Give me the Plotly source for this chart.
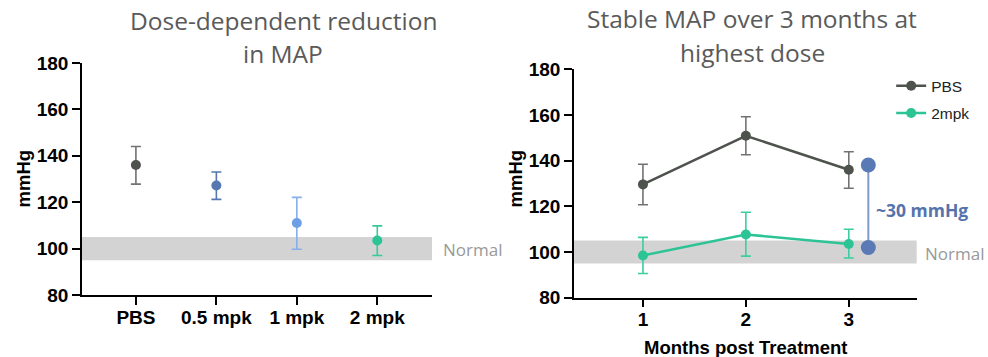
import plotly.graph_objects as go

# ---------------- data ----------------
dose_categories = ["PBS", "0.5 mpk", "1 mpk", "2 mpk"]
dose_map = [136.0, 127.2, 111.0, 103.5]
dose_err_plus = [8.0, 5.8, 11.1, 6.3]
dose_err_minus = [8.2, 6.0, 11.3, 6.5]

months = [1, 2, 3]
pbs_map = [129.6, 150.9, 136.0]
pbs_err_plus = [8.8, 8.3, 7.9]
pbs_err_minus = [8.9, 8.3, 8.1]
mpk2_map = [98.5, 107.7, 103.5]
mpk2_err_plus = [7.9, 9.7, 6.5]
mpk2_err_minus = [7.9, 9.5, 6.1]

gap_x = [3.19, 3.19]
gap_values = [138.1, 102.0]

normal_low, normal_high = 95, 105
y_ticks = [80, 100, 120, 140, 160, 180]

# ---------------- styles ----------------
dose_colors = ["#4E534D", "#5677B0", "#6C9FE3", "#2CC495"]
dose_err_colors = ["#707370", "#5677B0", "#86B0EA", "#38C99C"]
PBS_C = "#4E534D"
PBS_ERR = "#707370"
TEAL = "#2CC495"
TEAL_ERR = "#3CCDA0"
BAND = "#D3D3D3"
TICKFONT = dict(family="Liberation Sans, Arial", size=19, color="black", weight="bold")
TITLEFONT = dict(family="Open Sans", size=24.5, color="#5A5A5A")

fig = go.Figure()

for i, cat in enumerate(dose_categories):
    fig.add_trace(go.Scatter(
        x=[cat], y=[dose_map[i]], mode="markers",
        marker=dict(size=10, color=dose_colors[i]),
        error_y=dict(type="data", array=[dose_err_plus[i]], arrayminus=[dose_err_minus[i]],
                     color=dose_err_colors[i], thickness=1.6, width=5),
        showlegend=False, xaxis="x", yaxis="y", hoverinfo="skip"))

fig.add_trace(go.Scatter(
    x=months, y=pbs_map, mode="lines+markers", name="PBS",
    line=dict(color=PBS_C, width=2.5), marker=dict(size=10, color=PBS_C),
    error_y=dict(type="data", array=pbs_err_plus, arrayminus=pbs_err_minus,
                 color=PBS_ERR, thickness=1.6, width=5),
    xaxis="x2", yaxis="y2", legendgroup="a"))
fig.add_trace(go.Scatter(
    x=months, y=mpk2_map, mode="lines+markers", name="2mpk",
    line=dict(color=TEAL, width=2.5), marker=dict(size=10, color=TEAL),
    error_y=dict(type="data", array=mpk2_err_plus, arrayminus=mpk2_err_minus,
                 color=TEAL_ERR, thickness=1.6, width=5),
    xaxis="x2", yaxis="y2", legendgroup="b"))
fig.add_trace(go.Scatter(
    x=gap_x, y=gap_values, mode="lines+markers",
    line=dict(color="#7F9BCB", width=2), marker=dict(size=15, color="#5A7AB5"),
    showlegend=False, xaxis="x2", yaxis="y2", hoverinfo="skip"))

axis_common = dict(showline=True, linecolor="black", linewidth=1.5, ticks="outside",
                   ticklen=8, tickwidth=1.5, tickcolor="black", showgrid=False,
                   zeroline=False, tickfont=TICKFONT, automargin=False)

fig.update_layout(
    template="none",
    width=988, height=357,
    margin=dict(l=0, r=0, t=0, b=0, pad=0),
    paper_bgcolor="white", plot_bgcolor="white",
    xaxis=dict(domain=[82/988, 432/988], anchor="y", type="category", range=[-0.67, 3.68],
               ticklabelstandoff=-4, **axis_common),
    yaxis=dict(domain=[(357-295)/357, (357-63)/357], anchor="x", range=[80, 180], tickvals=y_ticks, **axis_common),
    xaxis2=dict(domain=[574/988, 916.7/988], anchor="y2", range=[0.33, 3.66], tickvals=months,
                ticklabelstandoff=-4, **axis_common),
    yaxis2=dict(domain=[(357-297.7)/357, (357-69.3)/357], anchor="x2", range=[80, 180], tickvals=y_ticks, **axis_common),
    legend=dict(x=0.902, y=0.806, xanchor="left", yanchor="top", bgcolor="rgba(0,0,0,0)",
                font=dict(family="Liberation Sans, Arial", size=15.5, color="#222"),
                itemwidth=30, tracegroupgap=4),
    showlegend=True,
)

# normal range bands
for xr, yr in [("x domain", "y"), ("x2 domain", "y2")]:
    fig.add_shape(type="rect", xref=xr, yref=yr, x0=0, x1=1, y0=normal_low, y1=normal_high,
                  fillcolor=BAND, line=dict(width=0), layer="below")

ann = [
    dict(text="Dose-dependent reduction", x=283/988, y=(357-20)/357),
    dict(text="in MAP", x=283/988, y=(357-53)/357),
    dict(text="Stable MAP over 3 months at", x=752/988, y=(357-18)/357),
    dict(text="highest dose", x=752/988, y=(357-52)/357),
]
for a in ann:
    fig.add_annotation(text=a["text"], x=a["x"], y=a["y"], xref="paper", yref="paper",
                       xanchor="center", yanchor="middle", showarrow=False, font=TITLEFONT)

for xpos in [23/988, 515/988]:
    fig.add_annotation(text="mmHg", x=xpos, y=0.5, xref="paper", yref="paper",
                       textangle=-90, showarrow=False, xanchor="center", yanchor="middle",
                       font=dict(family="Liberation Sans, Arial", size=18.5, color="black", weight="bold"))

fig.add_annotation(text="Months post Treatment", x=746/988, y=(357-347)/357, xref="paper", yref="paper",
                   showarrow=False, xanchor="center", yanchor="middle",
                   font=dict(family="Liberation Sans, Arial", size=18.5, color="black", weight="bold"))

fig.add_annotation(text="Normal", x=441/988, y=99.7, xref="paper", yref="y", xanchor="left",
                   yanchor="middle", showarrow=False,
                   font=dict(family="Open Sans", size=17, color="#999999"))
fig.add_annotation(text="Normal", x=923/988, y=99.4, xref="paper", yref="y2", xanchor="left",
                   yanchor="middle", showarrow=False,
                   font=dict(family="Open Sans", size=17, color="#999999"))

fig.add_annotation(text="~30 mmHg", x=874/988, y=118.4, xref="paper", yref="y2", xanchor="left",
                   yanchor="middle", showarrow=False,
                   font=dict(family="Open Sans", size=17.5, color="#5673AC", weight="bold"))

fig.write_html("out.html", config={"displayModeBar": False},
               post_script="document.body.style.margin='0';")
